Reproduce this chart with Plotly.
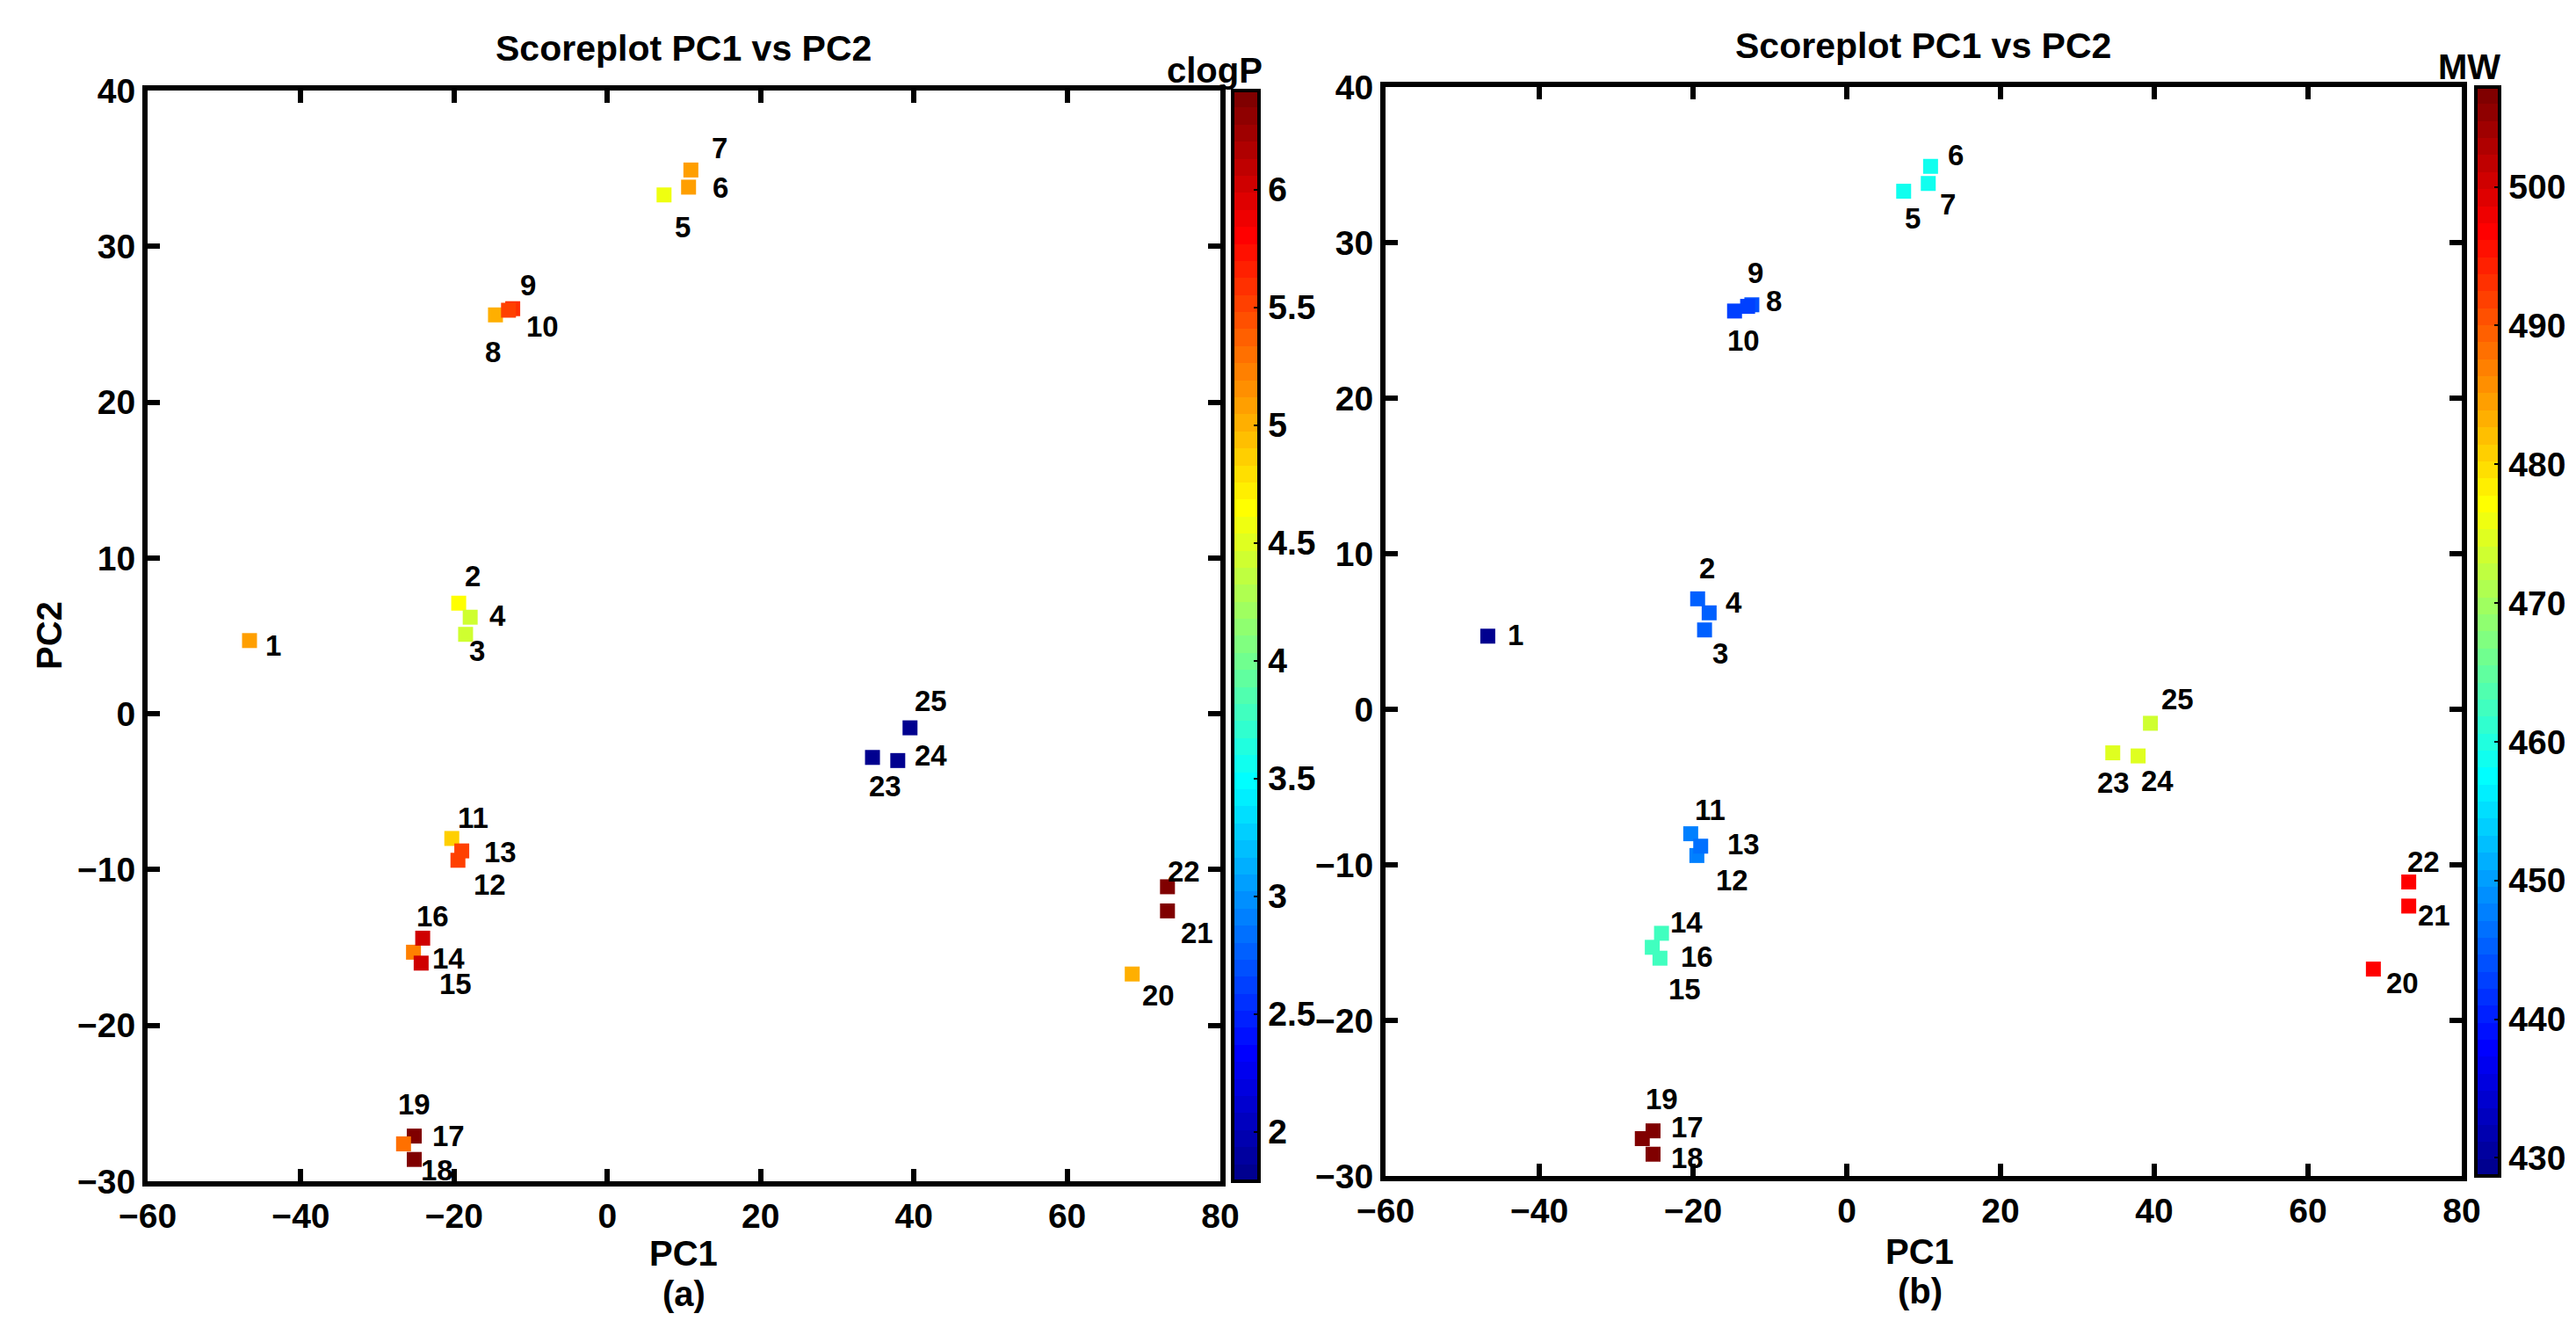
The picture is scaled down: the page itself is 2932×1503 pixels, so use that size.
import plotly.graph_objects as go

# score data for the 25 compounds (PC1/PC2 are the same in both panels)
ids = [str(i) for i in range(1, 26)]
pc1 = [-46.7, -19.4, -18.5, -17.9, 7.4, 10.6, 10.9, -14.6, -12.35, -12.9,
       -20.3, -19.5, -19.0, -25.3, -24.3, -24.1, -25.2, -25.2, -26.6, 68.5,
       73.1, 73.1, 34.6, 37.9, 39.5]
pc2 = [4.7, 7.1, 5.1, 6.2, 33.3, 33.8, 34.9, 25.6, 26.0, 25.9,
       -8.0, -9.4, -8.8, -15.3, -16.0, -14.4, -27.1, -28.6, -27.6, -16.7,
       -12.65, -11.1, -2.8, -3.0, -0.9]
clogp = [5.05, 4.65, 4.43, 4.40, 4.55, 5.08, 5.10, 4.99, 5.57, 5.55,
         4.86, 5.49, 5.50, 5.23, 6.00, 6.03, 6.40, 6.41, 5.30, 4.98,
         6.38, 6.42, 1.80, 1.79, 1.82]
mw = [428.7, 445.3, 445.0, 445.2, 458.8, 458.9, 458.7, 443.3, 443.5, 443.2,
      447.1, 447.3, 447.0, 462.4, 462.3, 462.5, 507.2, 507.1, 507.0, 497.0,
      497.2, 496.9, 474.1, 474.3, 474.0]

x_ticks = [-60, -40, -20, 0, 20, 40, 60, 80]
y_ticks = [-30, -20, -10, 0, 10, 20, 30, 40]
clogp_ticks = [2, 2.5, 3, 3.5, 4, 4.5, 5, 5.5, 6]
mw_ticks = [430, 440, 450, 460, 470, 480, 490, 500]

# label offsets in pixels (right, down) for each panel
lab_dx_a = [27, 16, 13, 31, 21, 36, 33, -3, 17, 39, 24, 36, 44, 40, 39, 11, 39, 26, 12, 30, 34, 19, 14, 38, 24]
lab_dy_a = [6, -31, 19, -2, 37, 1, -25, 42, -27, 19, -23, 28, 1, 7, 24, -25, 0, 12, -45, 24, 25, -17, 33, -6, -31]
lab_dx_b = [32, 11, 18, 28, 10, 31, 20, 45, 4, -5, 22, 40, 49, 39, 28, 40, 39, 39, 22, 33, 29, 17, 1, 22, 31]
lab_dy_b = [-1, -35, 27, -12, 31, -32, 43, -11, -36, 39, -27, 28, -2, -28, 35, 27, -4, 4, -45, 16, 11, -23, 34, 28, -27]

W, H = 2932, 1503
FONT = "Liberation Sans, Arial, sans-serif"


def px(x):
    return x / W


def py(y):
    return 1 - y / H


# MATLAB style jet(64), stepped
def jet64():
    n = 16
    u = [k / n for k in range(1, n + 1)] + [1.0] * (n - 1) + [k / n for k in range(n, 0, -1)]
    rgb = [[0.0, 0.0, 0.0] for _ in range(64)]
    for j, val in enumerate(u):
        g = 8 + j
        for idx, ch in ((g + n, 0), (g, 1), (g - n, 2)):
            if 0 <= idx < 64:
                rgb[idx][ch] = val
    cs = []
    for i, c in enumerate(rgb):
        col = 'rgb(%d,%d,%d)' % tuple(round(v * 255) for v in c)
        cs.append([i / 64, col])
        cs.append([(i + 1) / 64, col])
    return cs


jet = jet64()

fig = go.Figure()
fig.add_trace(go.Scatter(x=pc1, y=pc2, mode='markers', xaxis='x', yaxis='y',
                         marker=dict(symbol='square', size=17, color=clogp,
                                     coloraxis='coloraxis', line=dict(width=0)),
                         showlegend=False))
fig.add_trace(go.Scatter(x=pc1, y=pc2, mode='markers', xaxis='x2', yaxis='y2',
                         marker=dict(symbol='square', size=17, color=mw,
                                     coloraxis='coloraxis2', line=dict(width=0)),
                         showlegend=False))

axis_common = dict(showgrid=False, zeroline=False, ticks='inside', ticklen=14,
                   tickwidth=6, tickcolor='black', showline=True, linewidth=6,
                   linecolor='black', mirror='ticks', automargin=False,
                   tickfont=dict(family=FONT, size=39, color='black', weight='bold'))

cb_common = dict(outlinewidth=4, outlinecolor='black', xanchor='left', xpad=0, ypad=0,
                 yanchor='middle', lenmode='pixels', ticks='inside', ticklen=8,
                 tickwidth=2, tickcolor='black',
                 tickfont=dict(family=FONT, size=39, color='black', weight='bold'))

fig.update_layout(
    width=W, height=H, autosize=False,
    margin=dict(l=0, r=0, t=0, b=0, pad=0, autoexpand=False),
    paper_bgcolor='white', plot_bgcolor='white',
    xaxis=dict(domain=[px(160), px(1381)], range=[-60, 80], tickvals=x_ticks,
               anchor='y', **axis_common),
    yaxis=dict(domain=[py(1336), py(95)], range=[-30, 40], tickvals=y_ticks,
               anchor='x', **axis_common),
    xaxis2=dict(domain=[px(1569), px(2794)], range=[-60, 80], tickvals=x_ticks,
                anchor='y2', **axis_common),
    yaxis2=dict(domain=[py(1330), py(91)], range=[-30, 40], tickvals=y_ticks,
                anchor='x2', **axis_common),
    coloraxis=dict(colorscale=jet, cmin=1.79, cmax=6.42,
                   colorbar=dict(x=px(1395), thickness=30, len=1241, y=py(715.5),
                                 tickvals=clogp_ticks, **cb_common)),
    coloraxis2=dict(colorscale=jet, cmin=428.7, cmax=507.2,
                    colorbar=dict(x=px(2810), thickness=27, len=1239, y=py(710.5),
                                  tickvals=mw_ticks, **cb_common)),
)

annots = []
lab_font = dict(family=FONT, size=33, color='black', weight='bold')
for i in range(len(ids)):
    annots.append(dict(x=pc1[i], y=pc2[i], xref='x', yref='y', text=ids[i],
                       showarrow=False, xanchor='center', yanchor='middle',
                       xshift=lab_dx_a[i], yshift=-lab_dy_a[i], font=lab_font))
    annots.append(dict(x=pc1[i], y=pc2[i], xref='x2', yref='y2', text=ids[i],
                       showarrow=False, xanchor='center', yanchor='middle',
                       xshift=lab_dx_b[i], yshift=-lab_dy_b[i], font=lab_font))

txt_font = dict(family=FONT, size=40, color='black', weight='bold')
title_font = dict(family=FONT, size=41, color='black', weight='bold')
for text, x, y, fnt, kw in [
    ('Scoreplot PC1 vs PC2', 770, 47, title_font, {}),
    ('Scoreplot PC1 vs PC2', 2181, 44, title_font, {}),
    ('PC1', 770, 1418, txt_font, {}),
    ('(a)', 770, 1464, txt_font, {}),
    ('PC1', 2177, 1416, txt_font, {}),
    ('(b)', 2177, 1461, txt_font, {}),
    ('PC2', 48, 715, txt_font, {'textangle': -90}),
]:
    annots.append(dict(x=px(x), y=py(y), xref='paper', yref='paper', text=text,
                       showarrow=False, xanchor='center', yanchor='middle',
                       font=fnt, **kw))

annots.append(dict(x=px(1431), y=py(72), xref='paper', yref='paper', text='clogP',
                   showarrow=False, xanchor='right', yanchor='middle', font=txt_font))
annots.append(dict(x=px(2840), y=py(68), xref='paper', yref='paper', text='MW',
                   showarrow=False, xanchor='right', yanchor='middle', font=txt_font))

fig.update_layout(annotations=annots)

fig.write_html("out.html")
